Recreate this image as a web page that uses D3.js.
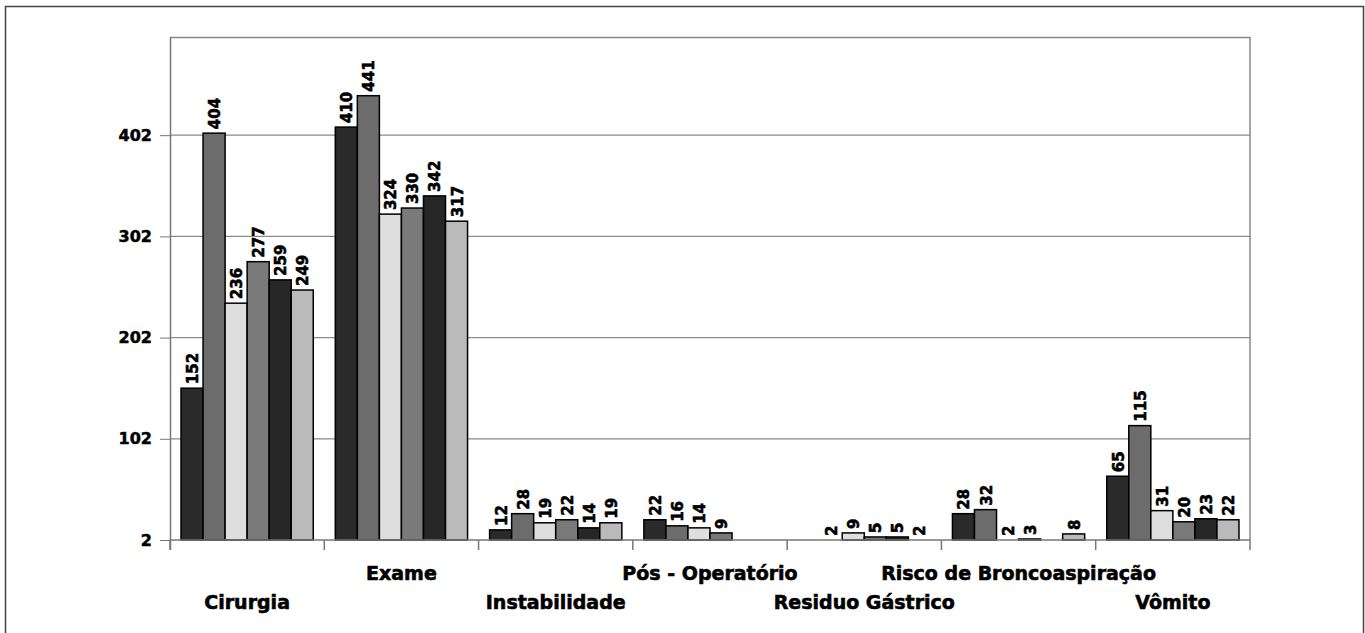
<!DOCTYPE html>
<html>
<head>
<meta charset="utf-8">
<script src="https://cdn.jsdelivr.net/npm/d3@7"></script>
<style>
body { margin: 0; background: #fff; }
text { font-family: "DejaVu Sans", Arial, sans-serif; font-weight: bold; fill: #000; }
</style>
</head>
<body>
<div id="chart"></div>
<script>
// categories and series (null = no bar)
var categories = ["Cirurgia", "Exame", "Instabilidade", "Pós - Operatório",
    "Residuo Gástrico", "Risco de Broncoaspiração", "Vômito"];
var series1 = [152, 410, 12, 22, null, 28, 65];
var series2 = [404, 441, 28, 16, 2, 32, 115];
var series3 = [236, 324, 19, 14, 9, 2, 31];
var series4 = [277, 330, 22, 9, 5, 3, 20];
var series5 = [259, 342, 14, null, 5, null, 23];
var series6 = [249, 317, 19, null, 2, 8, 22];
var yTicks = [2, 102, 202, 302, 402];

var allSeries = [series1, series2, series3, series4, series5, series6];
var colors = ["#2a2a2a", "#6c6c6c", "#dedede", "#7a7a7a", "#262626", "#bababa"];

var width = 1365, height = 633;
var margin = { top: 37, right: 115, bottom: 93, left: 170 };
var w = width - margin.left - margin.right;
var h = height - margin.top - margin.bottom;

var svg = d3.select("#chart").append("svg")
    .attr("width", width)
    .attr("height", height);

// outer frame
svg.append("rect")
    .attr("x", 5.5).attr("y", 6.5)
    .attr("width", 1358).attr("height", 640)
    .attr("fill", "none")
    .attr("stroke", "#444")
    .attr("stroke-width", 1.5);

var g = svg.append("g")
    .attr("transform", "translate(" + margin.left + "," + margin.top + ")");

var x = d3.scaleBand().domain(d3.range(categories.length)).range([0, w]);
var bw = x.bandwidth() / 7;
var xs = d3.scaleBand().domain(d3.range(allSeries.length))
    .range([bw / 2, x.bandwidth() - bw / 2]);
var y = d3.scaleLinear().domain([2, 499]).range([h, 0]);

// gridlines
g.append("g")
    .selectAll("line")
    .data(yTicks.slice(1))
    .enter().append("line")
    .attr("x1", 0).attr("x2", w)
    .attr("y1", function (d) { return y(d); })
    .attr("y2", function (d) { return y(d); })
    .attr("stroke", "#8a8a8a")
    .attr("stroke-width", 1.2);

// plot area top and right border
g.append("path")
    .attr("d", "M0,0.5H" + w + "V" + h)
    .attr("fill", "none")
    .attr("stroke", "#888")
    .attr("stroke-width", 1.5);

// bars
var rows = [];
categories.forEach(function (c, i) {
    allSeries.forEach(function (s, j) {
        if (s[i] != null) rows.push({ cat: i, ser: j, value: s[i] });
    });
});

var bars = g.append("g").selectAll("g")
    .data(rows)
    .enter().append("g")
    .attr("transform", function (d) {
        return "translate(" + (x(d.cat) + xs(d.ser)) + ",0)";
    });

bars.append("rect")
    .attr("x", 0)
    .attr("width", xs.bandwidth())
    .attr("y", function (d) { return y(d.value); })
    .attr("height", function (d) { return Math.max(0, h - y(d.value)); })
    .attr("fill", function (d) { return colors[d.ser]; })
    .attr("stroke", "#000")
    .attr("stroke-width", 1.5);

bars.append("text")
    .attr("transform", function (d) {
        return "translate(" + (xs.bandwidth() / 2 + 6) + "," + (y(d.value) - 4) + ") rotate(-90)";
    })
    .attr("font-size", "15px")
    .attr("stroke", "#000")
    .attr("stroke-width", 0.6)
    .text(function (d) { return d.value; });

// y axis
var yAxis = g.append("g")
    .call(d3.axisLeft(y).tickValues(yTicks).tickSize(10).tickPadding(8));
yAxis.select(".domain").attr("stroke", "#777").attr("stroke-width", 1.5)
    .attr("d", "M0.5,0V" + (h + 10));
yAxis.selectAll(".tick line").attr("stroke", "#777");
yAxis.selectAll(".tick text")
    .attr("font-size", "16px")
    .attr("stroke", "#000")
    .attr("stroke-width", 0.5)
    .style("font-family", "'DejaVu Sans', Arial, sans-serif")
    .style("font-weight", "bold");

// x axis (baseline + tick marks between categories)
g.append("line")
    .attr("x1", 0).attr("x2", w)
    .attr("y1", h).attr("y2", h)
    .attr("stroke", "#777").attr("stroke-width", 1.5);

g.append("g").selectAll("line")
    .data(d3.range(categories.length + 1))
    .enter().append("line")
    .attr("x1", function (d) { return d * x.step(); })
    .attr("x2", function (d) { return d * x.step(); })
    .attr("y1", h).attr("y2", h + 10)
    .attr("stroke", "#777").attr("stroke-width", 1.5);

// staggered category labels
g.append("g").selectAll("text")
    .data(categories)
    .enter().append("text")
    .attr("x", function (d, i) { return x(i) + x.bandwidth() / 2; })
    .attr("y", function (d, i) { return i % 2 === 0 ? h + 69 : h + 40; })
    .attr("text-anchor", "middle")
    .attr("font-size", "19px")
    .attr("stroke", "#000")
    .attr("stroke-width", 0.6)
    .text(function (d) { return d; });
</script>
</body>
</html>
